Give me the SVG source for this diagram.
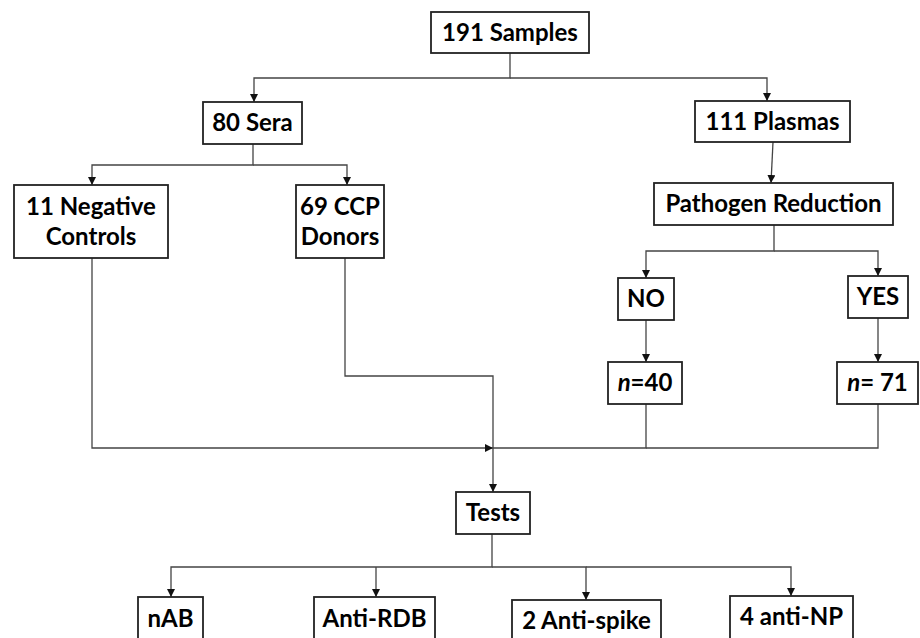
<svg xmlns="http://www.w3.org/2000/svg" width="920" height="638" viewBox="0 0 920 638">
<defs>
<style>
.box{fill:#fff;stroke:#222;stroke-width:1.8}
.t{font-family:Lato,"Open Sans","Liberation Sans",sans-serif;font-weight:bold;font-size:24px;fill:#000;text-anchor:middle}
.c{fill:none;stroke:#444;stroke-width:1.3}
</style>
<marker id="ah" viewBox="0 0 10 10" refX="10" refY="5" markerWidth="8" markerHeight="8" markerUnits="userSpaceOnUse" orient="auto">
<path d="M0,0 L10,5 L0,10 Z" fill="#111"/>
</marker>
</defs>
<rect width="920" height="638" fill="#fff"/>
<g id="connectors">
<path class="c" d="M510,53 V78 H254 V102" marker-end="url(#ah)"/>
<path class="c" d="M510,78 H767 V101" marker-end="url(#ah)"/>
<path class="c" d="M253,144 V165 H92 V185" marker-end="url(#ah)"/>
<path class="c" d="M253,165 H347 V185" marker-end="url(#ah)"/>
<path class="c" d="M773,142 L771,183" marker-end="url(#ah)"/>
<path class="c" d="M774,225 V251 H646 V278" marker-end="url(#ah)"/>
<path class="c" d="M774,251 H878 V276" marker-end="url(#ah)"/>
<path class="c" d="M646,320 V362" marker-end="url(#ah)"/>
<path class="c" d="M878,318 V362" marker-end="url(#ah)"/>
<path class="c" d="M92,258 V448 H493" marker-end="url(#ah)"/>
<path class="c" d="M345,258 V376 H493 V492" marker-end="url(#ah)"/>
<path class="c" d="M646,404 V448 H493"/>
<path class="c" d="M878,404 V448 H646"/>
<path class="c" d="M492,534 V567 H171 V597" marker-end="url(#ah)"/>
<path class="c" d="M376,567 V597" marker-end="url(#ah)"/>
<path class="c" d="M492,567 H586 V600" marker-end="url(#ah)"/>
<path class="c" d="M586,567 H791 V596" marker-end="url(#ah)"/>
</g>
<g id="n191"><rect class="box" x="431" y="12" width="158" height="41"/><text class="t" x="510" y="41">191 Samples</text></g>
<g id="sera"><rect class="box" x="203" y="102" width="99" height="42"/><text class="t" x="252.5" y="131">80 Sera</text></g>
<g id="plasmas"><rect class="box" x="695" y="101" width="155" height="41"/><text class="t" x="772.5" y="130">111 Plasmas</text></g>
<g id="pathogen"><rect class="box" x="654" y="183" width="239" height="42"/><text class="t" x="773.5" y="212">Pathogen Reduction</text></g>
<g id="negctrl"><rect class="box" x="14" y="185" width="154" height="73"/><text class="t" x="91" y="215">11 Negative</text><text class="t" x="91" y="245">Controls</text></g>
<g id="ccp"><rect class="box" x="296" y="185" width="88" height="73"/><text class="t" x="340" y="215">69 CCP</text><text class="t" x="340" y="245">Donors</text></g>
<g id="no"><rect class="box" x="618" y="278" width="56" height="42"/><text class="t" x="646" y="307">NO</text></g>
<g id="yes"><rect class="box" x="848" y="276" width="60" height="42"/><text class="t" x="878" y="305">YES</text></g>
<g id="n40"><rect class="box" x="608" y="362" width="74" height="42"/><text class="t" x="645" y="391"><tspan font-style="italic">n</tspan>=40</text></g>
<g id="n71"><rect class="box" x="837" y="362" width="81" height="42"/><text class="t" x="877.5" y="391"><tspan font-style="italic">n</tspan>= 71</text></g>
<g id="tests"><rect class="box" x="456" y="492" width="74" height="42"/><text class="t" x="493" y="521">Tests</text></g>
<g id="nab"><rect class="box" x="138" y="597" width="65" height="60"/><text class="t" x="170.5" y="627">nAB</text></g>
<g id="rdb"><rect class="box" x="314" y="597" width="121" height="60"/><text class="t" x="374.5" y="627">Anti-RDB</text></g>
<g id="spike"><rect class="box" x="512" y="600" width="149" height="60"/><text class="t" x="586.5" y="629">2 Anti-spike</text></g>
<g id="np"><rect class="box" x="730" y="596" width="123" height="60"/><text class="t" x="791.5" y="625">4 anti-NP</text></g>
</svg>
